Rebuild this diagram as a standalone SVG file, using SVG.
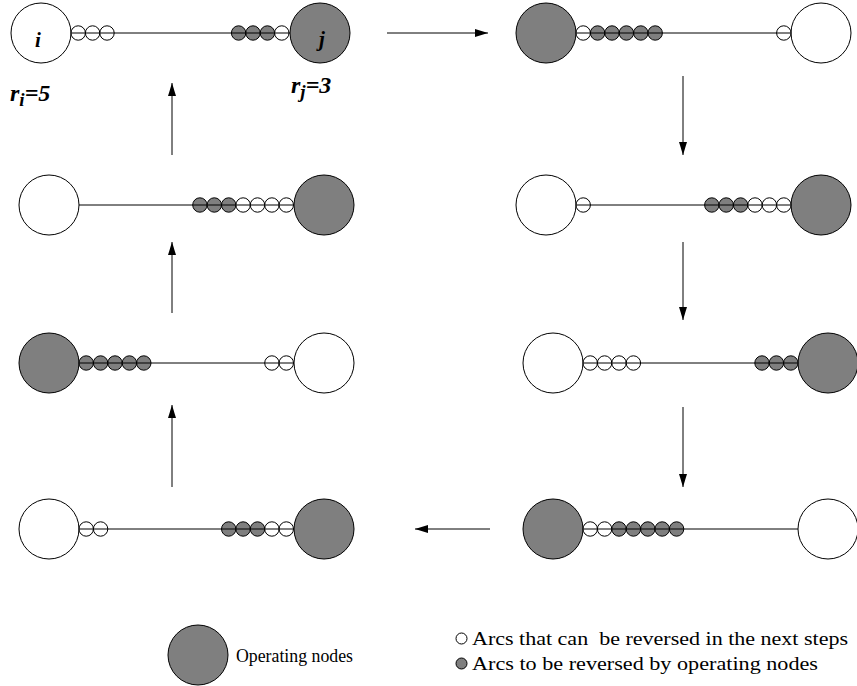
<svg xmlns="http://www.w3.org/2000/svg" width="857" height="686" viewBox="0 0 857 686">
<style>
.w{fill:#fff;stroke:#000;stroke-width:1}
.g{fill:#7f7f7f;stroke:#000;stroke-width:1}
.ln{stroke:#000;stroke-width:1;fill:none}
.ar{stroke:#000;stroke-width:1;fill:none;marker-end:url(#ah)}
.lbl{font-family:"Liberation Serif","Times New Roman",serif;font-weight:bold;font-style:italic;fill:#000}
.leg{font-family:"Liberation Serif","Times New Roman",serif;font-size:19px;fill:#000}
.leg2{font-family:"Liberation Serif","Times New Roman",serif;font-size:18px;fill:#000}
</style>
<defs>
<marker id="ah" markerUnits="userSpaceOnUse" markerWidth="14" markerHeight="9" refX="13" refY="4" orient="auto">
<path d="M0,0 L13,4 L0,8 Z" fill="#000"/>
</marker>
</defs>
<rect width="857" height="686" fill="#fff"/>

<!-- Panel 1 (top-left) -->
<g id="state1">
<g id="s1-node-i"><circle class="w" cx="41" cy="33" r="30"/></g>
<g id="s1-node-j"><circle class="g" cx="320" cy="33" r="30"/></g>
<g id="s1-arcs">
<circle class="w" cx="78.2" cy="33" r="7.2"/><circle class="w" cx="92.6" cy="33" r="7.2"/><circle class="w" cx="107" cy="33" r="7.2"/>
<circle class="g" cx="238.6" cy="33" r="7.2"/><circle class="g" cx="253" cy="33" r="7.2"/><circle class="g" cx="267.4" cy="33" r="7.2"/><circle class="w" cx="281.8" cy="33" r="7.2"/>
<line class="ln" x1="71" y1="33" x2="290" y2="33"/>
</g>
<text class="lbl" x="38" y="47" font-size="21" text-anchor="middle">i</text>
<text class="lbl" x="322" y="46" font-size="21" text-anchor="middle">j</text>
<text class="lbl" x="10" y="101" font-size="24">r<tspan font-size="19" dy="5">i</tspan><tspan dy="-5">=5</tspan></text>
<text class="lbl" x="291" y="93" font-size="24">r<tspan font-size="19" dy="5">j</tspan><tspan dy="-5">=3</tspan></text>
</g>

<!-- Panel 2 (top-right) -->
<g id="state2">
<g id="s2-node-i"><circle class="g" cx="546" cy="33" r="30"/></g>
<g id="s2-node-j"><circle class="w" cx="821" cy="33" r="30"/></g>
<g id="s2-arcs">
<circle class="w" cx="583.2" cy="33" r="7.2"/>
<circle class="g" cx="597.6" cy="33" r="7.2"/><circle class="g" cx="612" cy="33" r="7.2"/><circle class="g" cx="626.4" cy="33" r="7.2"/><circle class="g" cx="640.8" cy="33" r="7.2"/><circle class="g" cx="655.2" cy="33" r="7.2"/>
<circle class="w" cx="783.8" cy="33" r="7.2"/>
<line class="ln" x1="576" y1="33" x2="791" y2="33"/>
</g>
</g>

<!-- Panel 3 (second row right) -->
<g id="state3">
<g id="s3-node-i"><circle class="w" cx="546" cy="205" r="30"/></g>
<g id="s3-node-j"><circle class="g" cx="821" cy="205" r="30"/></g>
<g id="s3-arcs">
<circle class="w" cx="583.2" cy="205" r="7.2"/>
<circle class="g" cx="711.8" cy="205" r="7.2"/><circle class="g" cx="726.2" cy="205" r="7.2"/><circle class="g" cx="740.6" cy="205" r="7.2"/>
<circle class="w" cx="755" cy="205" r="7.2"/><circle class="w" cx="769.4" cy="205" r="7.2"/><circle class="w" cx="783.8" cy="205" r="7.2"/>
<line class="ln" x1="576" y1="205" x2="791" y2="205"/>
</g>
</g>

<!-- Panel 4 (third row right) -->
<g id="state4">
<g id="s4-node-i"><circle class="w" cx="553" cy="363" r="30"/></g>
<g id="s4-node-j"><circle class="g" cx="828" cy="363" r="30"/></g>
<g id="s4-arcs">
<circle class="w" cx="590.2" cy="363" r="7.2"/><circle class="w" cx="604.6" cy="363" r="7.2"/><circle class="w" cx="619" cy="363" r="7.2"/><circle class="w" cx="633.4" cy="363" r="7.2"/>
<circle class="g" cx="762" cy="363" r="7.2"/><circle class="g" cx="776.4" cy="363" r="7.2"/><circle class="g" cx="790.8" cy="363" r="7.2"/>
<line class="ln" x1="583" y1="363" x2="798" y2="363"/>
</g>
</g>

<!-- Panel 5 (bottom right) -->
<g id="state5">
<g id="s5-node-i"><circle class="g" cx="553" cy="529" r="30"/></g>
<g id="s5-node-j"><circle class="w" cx="828" cy="529" r="30"/></g>
<g id="s5-arcs">
<circle class="w" cx="590.2" cy="529" r="7.2"/><circle class="w" cx="604.6" cy="529" r="7.2"/>
<circle class="g" cx="619" cy="529" r="7.2"/><circle class="g" cx="633.4" cy="529" r="7.2"/><circle class="g" cx="647.8" cy="529" r="7.2"/><circle class="g" cx="662.2" cy="529" r="7.2"/><circle class="g" cx="676.6" cy="529" r="7.2"/>
<line class="ln" x1="583" y1="529" x2="798" y2="529"/>
</g>
</g>

<!-- Panel 6 (bottom left) -->
<g id="state6">
<g id="s6-node-i"><circle class="w" cx="49" cy="529" r="30"/></g>
<g id="s6-node-j"><circle class="g" cx="324" cy="529" r="30"/></g>
<g id="s6-arcs">
<circle class="w" cx="86.2" cy="529" r="7.2"/><circle class="w" cx="100.6" cy="529" r="7.2"/>
<circle class="g" cx="228.7" cy="529" r="7.2"/><circle class="g" cx="243.1" cy="529" r="7.2"/><circle class="g" cx="257.5" cy="529" r="7.2"/>
<circle class="w" cx="271.9" cy="529" r="7.2"/><circle class="w" cx="286.3" cy="529" r="7.2"/>
<line class="ln" x1="79" y1="529" x2="294" y2="529"/>
</g>
</g>

<!-- Panel 7 (third row left) -->
<g id="state7">
<g id="s7-node-i"><circle class="g" cx="49" cy="363" r="30"/></g>
<g id="s7-node-j"><circle class="w" cx="324" cy="363" r="30"/></g>
<g id="s7-arcs">
<circle class="g" cx="86.2" cy="363" r="7.2"/><circle class="g" cx="100.6" cy="363" r="7.2"/><circle class="g" cx="115" cy="363" r="7.2"/><circle class="g" cx="129.4" cy="363" r="7.2"/><circle class="g" cx="143.8" cy="363" r="7.2"/>
<circle class="w" cx="271.9" cy="363" r="7.2"/><circle class="w" cx="286.3" cy="363" r="7.2"/>
<line class="ln" x1="79" y1="363" x2="294" y2="363"/>
</g>
</g>

<!-- Panel 8 (second row left) -->
<g id="state8">
<g id="s8-node-i"><circle class="w" cx="49" cy="205" r="30"/></g>
<g id="s8-node-j"><circle class="g" cx="324" cy="205" r="30"/></g>
<g id="s8-arcs">
<circle class="g" cx="199.9" cy="205" r="7.2"/><circle class="g" cx="214.3" cy="205" r="7.2"/><circle class="g" cx="228.7" cy="205" r="7.2"/>
<circle class="w" cx="243.1" cy="205" r="7.2"/><circle class="w" cx="257.5" cy="205" r="7.2"/><circle class="w" cx="271.9" cy="205" r="7.2"/><circle class="w" cx="286.3" cy="205" r="7.2"/>
<line class="ln" x1="79" y1="205" x2="294" y2="205"/>
</g>
</g>

<!-- Connectors -->
<g id="connectors">
<line class="ar" x1="387" y1="33" x2="488" y2="33"/>
<line class="ar" x1="683" y1="76" x2="683" y2="155"/>
<line class="ar" x1="683" y1="242" x2="683" y2="320"/>
<line class="ar" x1="683" y1="407" x2="683" y2="487"/>
<line class="ar" x1="490" y1="529" x2="415" y2="529"/>
<line class="ar" x1="172" y1="487" x2="172" y2="405"/>
<line class="ar" x1="172" y1="313" x2="172" y2="242"/>
<line class="ar" x1="172" y1="155" x2="172" y2="83"/>
</g>

<!-- Legend -->
<g id="legend">
<circle class="g" cx="198" cy="655" r="30"/>
<text class="leg" x="236" y="662" textLength="117" lengthAdjust="spacingAndGlyphs">Operating nodes</text>
<circle class="w" cx="461.5" cy="638.5" r="5.5"/>
<text class="leg2" x="472" y="645" xml:space="preserve" textLength="376" lengthAdjust="spacingAndGlyphs">Arcs that can  be reversed in the next steps</text>
<circle class="g" cx="461.5" cy="663.5" r="5.5"/>
<text class="leg2" x="472" y="670" textLength="346" lengthAdjust="spacingAndGlyphs">Arcs to be reversed by operating nodes</text>
</g>
</svg>
